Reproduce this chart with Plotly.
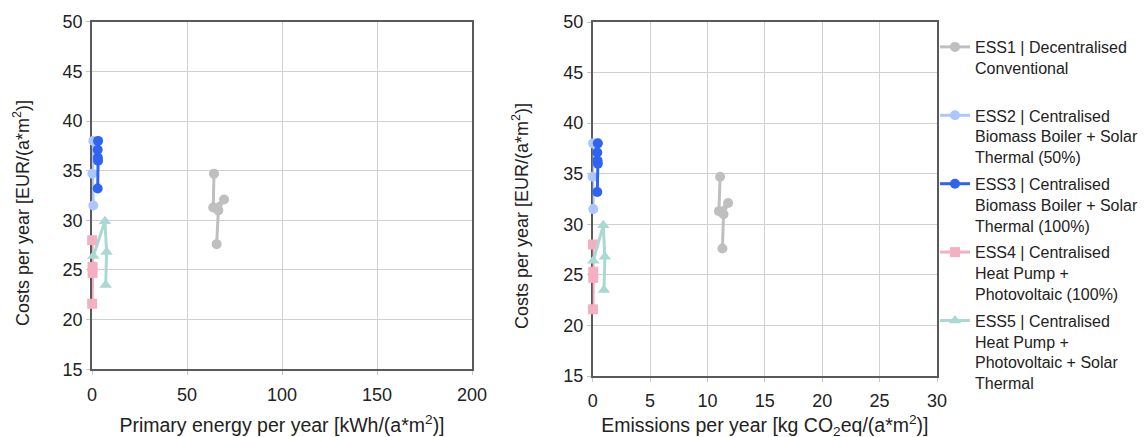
import plotly.graph_objects as go

# series names (legend text)
names = [
    "ESS1 | Decentralised<br>Conventional<br> ",
    "ESS2 | Centralised<br>Biomass Boiler + Solar<br>Thermal (50%)",
    "ESS3 | Centralised<br>Biomass Boiler + Solar<br>Thermal (100%)",
    "ESS4 | Centralised<br>Heat Pump +<br>Photovoltaic (100%)",
    "ESS5 | Centralised<br>Heat Pump +<br>Photovoltaic + Solar<br>Thermal",
]

# costs per year [EUR/(a*m2)]
ess1_cost = [34.7, 31.3, 32.1, 31.0, 27.6]
ess2_cost = [38.0, 34.7, 31.5]
ess3_cost = [38.0, 37.1, 36.3, 36.0, 33.2]
ess4_cost = [28.0, 25.3, 24.7, 21.6]
ess5_cost = [26.4, 29.9, 26.8, 23.5]

# primary energy per year [kWh/(a*m2)]
ess1_pe = [64.2, 63.8, 69.5, 66.5, 65.6]
ess2_pe = [0.7, 0.2, 0.7]
ess3_pe = [3.2, 3.0, 3.1, 3.2, 3.0]
ess4_pe = [0.1, 0.3, 0.3, 0.1]
ess5_pe = [0.7, 6.8, 7.7, 7.2]

# emissions per year [kg CO2eq/(a*m2)]
ess1_em = [11.1, 11.0, 11.8, 11.4, 11.3]
ess2_em = [0.03, 0.0, 0.05]
ess3_em = [0.45, 0.4, 0.42, 0.45, 0.4]
ess4_em = [0.02, 0.05, 0.05, 0.02]
ess5_em = [0.05, 0.92, 1.06, 0.98]

colors = ["#BFBFBF", "#AEC6FF", "#2F64F3", "#F4B0C1", "#AAD9D3"]
symbols = ["circle", "circle", "circle", "square", "triangle-up"]
msizes = [10, 10, 10, 10, 11]

costs = [ess1_cost, ess2_cost, ess3_cost, ess4_cost, ess5_cost]
pes = [ess1_pe, ess2_pe, ess3_pe, ess4_pe, ess5_pe]
ems = [ess1_em, ess2_em, ess3_em, ess4_em, ess5_em]

fig = go.Figure()

# left panel: costs vs primary energy
for i in range(5):
    fig.add_trace(go.Scatter(
        x=pes[i], y=costs[i], name=names[i], mode="lines+markers",
        line=dict(color=colors[i], width=3),
        marker=dict(color=colors[i], symbol=symbols[i], size=msizes[i]),
        xaxis="x", yaxis="y", legendgroup="g%d" % i, cliponaxis=False,
    ))

# right panel: costs vs emissions
for i in range(5):
    fig.add_trace(go.Scatter(
        x=ems[i], y=costs[i], name=names[i], mode="lines+markers",
        line=dict(color=colors[i], width=3),
        marker=dict(color=colors[i], symbol=symbols[i], size=msizes[i]),
        xaxis="x2", yaxis="y2", legendgroup="g%d" % i, showlegend=False,
        cliponaxis=False,
    ))

W, H = 1146, 437
OFF = 8  # page body margin
fam = "Liberation Sans, Arial, sans-serif"
tickfont = dict(family=fam, size=18, color="#222222")
titlefont = dict(family=fam, size=19.5, color="#222222")
ytitlefont = dict(family=fam, size=18, color="#222222")

def px_x(a, b):
    return [(a - OFF) / W, (b - OFF) / W]

def px_y(bottom, top):
    return [1 - (bottom - OFF) / H, 1 - (top - OFF) / H]

def xax(lo, hi, dtick, domain, title, anchor, standoff):
    return dict(
        domain=domain, range=[lo, hi], dtick=dtick, anchor=anchor,
        showgrid=True, gridcolor="#D0D0D0", gridwidth=1, zeroline=False,
        showline=True, linecolor="#5A5A5A", linewidth=1.5, mirror=True,
        ticks="outside", ticklen=4, tickcolor="#C8C8C8", ticklabelstandoff=4,
        title=dict(text=title, standoff=standoff, font=titlefont), tickfont=tickfont,
        automargin=False, layer="below traces",
    )

def yax(domain, anchor):
    return dict(
        domain=domain, range=[15, 50], dtick=5, anchor=anchor,
        showgrid=True, gridcolor="#D0D0D0", gridwidth=1, zeroline=False,
        showline=True, linecolor="#5A5A5A", linewidth=1.5, mirror=True,
        ticks="outside", ticklen=4, tickcolor="#C8C8C8",
        tickfont=tickfont, automargin=False, layer="below traces",
    )

ytitle = "Costs per year [EUR/(a*m<sup>2</sup>)]"
annotations = [
    dict(text=ytitle, textangle=-90, showarrow=False, font=ytitlefont,
         xref="paper", yref="paper", xanchor="center", yanchor="middle",
         x=(22 - OFF) / W, y=1 - (213 - OFF) / H),
    dict(text=ytitle, textangle=-90, showarrow=False, font=ytitlefont,
         xref="paper", yref="paper", xanchor="center", yanchor="middle",
         x=(520 - OFF) / W, y=1 - (216 - OFF) / H),
]

fig.update_layout(
    width=W, height=H,
    template="none",
    paper_bgcolor="white", plot_bgcolor="white",
    margin=dict(l=0, r=0, t=0, b=0),
    xaxis=xax(0, 200, 50, px_x(92, 472),
              "Primary energy per year [kWh/(a*m<sup>2</sup>)]", "y", 15),
    yaxis=yax(px_y(369.3, 21.7), "x"),
    xaxis2=xax(0, 30, 5, px_x(592.7, 937),
               "Emissions per year [kg CO<sub>2</sub>eq/(a*m<sup>2</sup>)]", "y2", 8),
    yaxis2=yax(px_y(376, 22), "x2"),
    annotations=annotations,
    legend=dict(
        x=(935 - OFF) / W, y=1 - (30 - OFF) / H, xanchor="left", yanchor="top",
        valign="top", font=dict(family=fam, size=16, color="#222222"),
        tracegroupgap=3, itemwidth=30, bgcolor="rgba(0,0,0,0)",
    ),
    showlegend=True,
)

fig.write_html("out.html")
